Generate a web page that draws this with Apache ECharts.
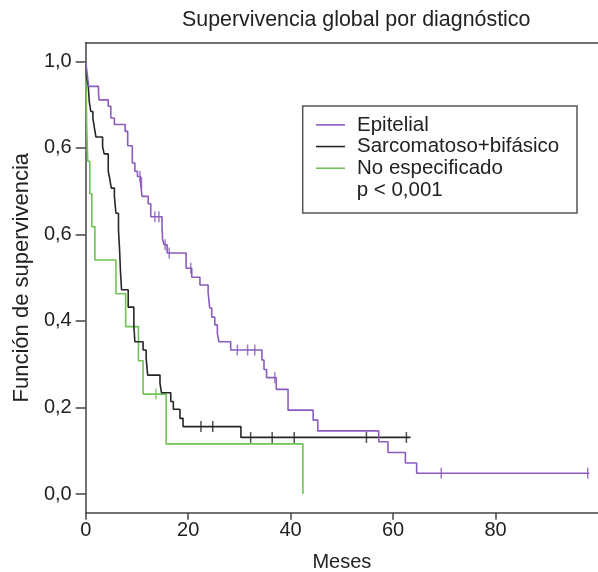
<!DOCTYPE html>
<html>
<head>
<meta charset="utf-8">
<script src="https://cdn.jsdelivr.net/npm/echarts@6/dist/echarts.min.js"></script>
<style>
html,body{margin:0;padding:0;background:#fff;}
#chart{width:598px;height:572px;}
</style>
</head>
<body>
<div id="chart"></div>
<script>
// ---- Data ----
var seriesNames = ['Epitelial', 'Sarcomatoso+bifásico', 'No especificado'];
var pText = 'p < 0,001';
var chartTitle = 'Supervivencia global por diagnóstico';
var xName = 'Meses';
var yName = 'Función de supervivencia';
var xTickValues = [0, 20, 40, 60, 80];
var yTickValues = [0, 0.2, 0.4, 0.6, 0.8, 1.0];
var yTickLabels = ['0,0', '0,2', '0,4', '0,6', '0,6', '1,0'];

// Epitelial: step times and survival after each step
var epiT = [0, 0.3, 0.6, 2.5, 2.6, 4.4, 4.9, 5.6, 7.7, 8.2, 9.1, 9.6, 10.1, 10.7, 11.0, 12.2, 12.7, 14.9, 15.0, 15.3, 15.9, 19.6, 20.7, 22.3, 23.9, 24.2, 24.6, 25.2, 25.7, 26.0, 28.3, 34.4, 34.8, 35.3, 37.2, 39.5, 44.4, 45.3, 57.2, 59.0, 62.4, 64.6, 98.3];
var epiS = [1.0, 0.97, 0.942, 0.929, 0.911, 0.896, 0.869, 0.854, 0.838, 0.805, 0.765, 0.746, 0.734, 0.719, 0.688, 0.671, 0.641, 0.62, 0.588, 0.576, 0.557, 0.522, 0.501, 0.483, 0.466, 0.43, 0.409, 0.391, 0.372, 0.352, 0.333, 0.31, 0.288, 0.269, 0.242, 0.194, 0.171, 0.146, 0.121, 0.096, 0.072, 0.048, 0.048];
var epiCensT = [10.6, 10.9, 13.5, 14.3, 15.5, 16.3, 20.5, 29.6, 31.6, 33.0, 36.9, 69.4, 98.0];
var epiCensS = [0.734, 0.719, 0.641, 0.641, 0.576, 0.557, 0.522, 0.333, 0.333, 0.333, 0.269, 0.048, 0.048];

// Sarcomatoso+bifásico
var sarT = [0, 0.2, 0.5, 0.7, 1.0, 1.4, 1.7, 2.0, 3.3, 3.6, 4.4, 4.7, 5.0, 5.6, 5.9, 6.4, 6.6, 6.8, 7.0, 8.3, 9.4, 9.6, 11.2, 11.8, 12.1, 14.5, 14.8, 16.6, 17.1, 18.4, 19.0, 30.3, 63.4];
var sarS = [1.0, 0.961, 0.942, 0.907, 0.884, 0.869, 0.846, 0.825, 0.803, 0.786, 0.746, 0.728, 0.707, 0.688, 0.649, 0.61, 0.568, 0.511, 0.472, 0.432, 0.389, 0.352, 0.333, 0.314, 0.275, 0.256, 0.234, 0.214, 0.196, 0.175, 0.156, 0.131, 0.131];
var sarCensT = [22.5, 24.8, 32.2, 36.4, 40.7, 54.8, 62.6];
var sarCensS = [0.156, 0.156, 0.131, 0.131, 0.131, 0.131, 0.131];

// No especificado
var noT = [0, 0.2, 0.4, 0.8, 1.2, 1.8, 5.9, 7.8, 10.3, 11.2, 15.7, 42.4];
var noS = [1.0, 0.85, 0.769, 0.694, 0.618, 0.541, 0.463, 0.387, 0.308, 0.231, 0.116, 0.0];
var noCensT = [13.7];
var noCensS = [0.231];

// ---- Style ----
var colors = ['#8a5cbf', '#262626', '#6fc455'];
var FONT = '"Liberation Sans", Arial, Helvetica, sans-serif';
var TXT = '#222';
var AX = '#444';

function pairs(t, s) { return t.map(function (v, i) { return [v, s[i]]; }); }

var curves = [pairs(epiT, epiS), pairs(sarT, sarS), pairs(noT, noS)];
var censors = [pairs(epiCensT, epiCensS), pairs(sarCensT, sarCensS), pairs(noCensT, noCensS)];

var series = [];
curves.forEach(function (d, i) {
  series.push({
    name: seriesNames[i], type: 'line', step: 'end', data: d,
    showSymbol: false, symbol: 'none', animation: false,
    lineStyle: { color: colors[i], width: 1.6 }, itemStyle: { color: colors[i] },
    z: 3 - i
  });
});
censors.forEach(function (d, i) {
  series.push({
    name: seriesNames[i] + '_c', type: 'scatter', data: d,
    symbol: 'rect', symbolSize: [1.5, 11], animation: false,
    itemStyle: { color: colors[i] }, z: 5
  });
});

var chart = echarts.init(document.getElementById('chart'), null, { renderer: 'canvas' });
chart.setOption({
  animation: false,
  backgroundColor: '#fff',
  textStyle: { fontFamily: FONT },
  title: {
    text: chartTitle, left: 182, top: 9, padding: 0,
    textStyle: { fontFamily: FONT, fontSize: 21.4, fontWeight: 'normal', color: TXT, lineHeight: 22 }
  },
  grid: { left: 85.7, top: 42.7, right: 0, bottom: 59.3, containLabel: false, outerBoundsMode: 'none' },
  legend: {
    data: seriesNames, orient: 'vertical', left: 316, top: 114, padding: 0,
    itemGap: 0, itemWidth: 29, itemHeight: 1.6, icon: 'rect',
    selectedMode: false,
    textStyle: { fontFamily: FONT, fontSize: 20.5, color: TXT, lineHeight: 21.7, padding: [0, 0, 0, 7] }
  },
  graphic: [
    { type: 'rect', shape: { x: 302.7, y: 106, width: 274.3, height: 107 },
      style: { fill: 'none', stroke: '#555', lineWidth: 1.5 }, z: 1 },
    { type: 'text', x: 356.7, y: 190, z: 10,
      style: { text: pText, font: '20.5px ' + FONT, fill: TXT, textVerticalAlign: 'middle', verticalAlign: 'middle' } }
  ],
  xAxis: [{
    type: 'value', min: 0, max: 100, interval: 20,
    name: xName, nameLocation: 'middle', nameGap: 40,
    nameTextStyle: { fontFamily: FONT, fontSize: 20, color: TXT },
    axisLine: { show: true, onZero: false, lineStyle: { color: AX, width: 1.5 } },
    axisTick: { show: true, length: 7, lineStyle: { color: AX, width: 1.5 }, customValues: xTickValues },
    axisLabel: { fontFamily: FONT, fontSize: 20, color: TXT, margin: 8, customValues: xTickValues },
    splitLine: { show: false }
  }, {
    type: 'value', min: 0, max: 100, position: 'top',
    axisLine: { show: true, onZero: false, lineStyle: { color: AX, width: 1.5 } },
    axisTick: { show: false }, axisLabel: { show: false }, splitLine: { show: false }
  }],
  yAxis: {
    type: 'value', min: -0.043, max: 1.043,
    name: yName, nameLocation: 'middle', nameGap: 53, nameRotate: 90,
    nameTextStyle: { fontFamily: FONT, fontSize: 22, color: TXT },
    axisLine: { show: true, onZero: false, lineStyle: { color: AX, width: 1.5 } },
    axisTick: { show: true, length: 10, lineStyle: { color: AX, width: 1.5 }, customValues: yTickValues },
    axisLabel: {
      fontFamily: FONT, fontSize: 20, color: TXT, margin: 14, customValues: yTickValues,
      formatter: function (v) {
        for (var i = 0; i < yTickValues.length; i++) {
          if (Math.abs(yTickValues[i] - v) < 1e-6) return yTickLabels[i];
        }
        return '';
      }
    },
    splitLine: { show: false }
  },
  series: series
});
</script>
</body>
</html>
